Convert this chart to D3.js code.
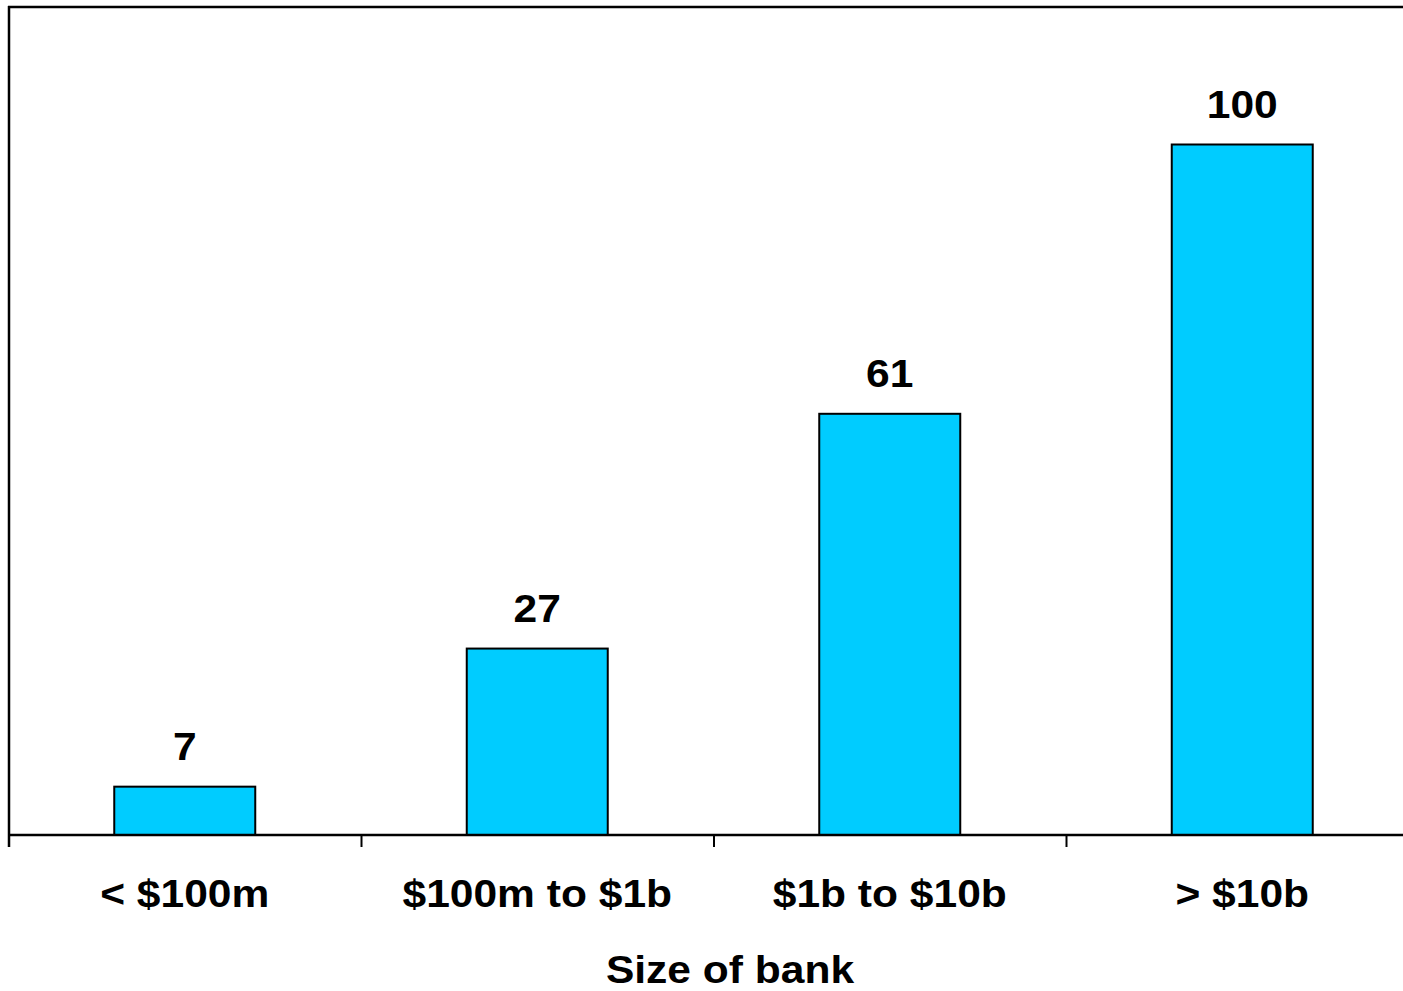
<!DOCTYPE html>
<html>
<head>
<meta charset="utf-8">
<script src="https://cdn.jsdelivr.net/npm/d3@7"></script>
<style>
  html, body { margin: 0; padding: 0; background: #fff; }
  svg { display: block; }
  text { font-family: "Liberation Sans", Arial, sans-serif; font-weight: bold; fill: #000; }
</style>
</head>
<body>
<svg id="chart" width="1403" height="991"></svg>
<script>
const categories = ["< $100m", "$100m to $1b", "$1b to $10b", "> $10b"];
const values = [7, 27, 61, 100];
const xTitle = "Size of bank";

const svg = d3.select("#chart");
const W = 1403, H = 991;
const plotLeft = 8.5, step = 352.5, baseY = 835, topY = 144.5;
const fs = 38, sx = 1.12;

const x = d3.scaleBand().domain(categories).range([plotLeft, plotLeft + step * categories.length]).padding(0);
const y = d3.scaleLinear().domain([0, 100]).range([baseY, topY]);
const barW = x.bandwidth() * 0.4;

// frame: top and left lines
svg.append("line").attr("x1", 8).attr("x2", W).attr("y1", 7).attr("y2", 7)
  .attr("stroke", "#000").attr("stroke-width", 2.5);
svg.append("line").attr("x1", 9).attr("x2", 9).attr("y1", 6).attr("y2", 847)
  .attr("stroke", "#000").attr("stroke-width", 2.5);

// bars
svg.selectAll("rect.bar").data(values).join("rect")
  .attr("class", "bar")
  .attr("x", (d, i) => x(categories[i]) + x.bandwidth() / 2 - barW / 2)
  .attr("width", barW)
  .attr("y", d => y(d))
  .attr("height", d => y(0) - y(d))
  .attr("fill", "#00CCFF")
  .attr("stroke", "#000")
  .attr("stroke-width", 2);

// axis line and ticks at category boundaries
svg.append("line").attr("x1", 8).attr("x2", W).attr("y1", baseY).attr("y2", baseY)
  .attr("stroke", "#000").attr("stroke-width", 2.5);
svg.selectAll("line.tick").data(categories).join("line")
  .attr("class", "tick")
  .attr("x1", d => x(d) + 0.5).attr("x2", d => x(d) + 0.5)
  .attr("y1", baseY).attr("y2", 847)
  .attr("stroke", "#000").attr("stroke-width", 2);

// value labels
svg.selectAll("text.val").data(values).join("text")
  .attr("class", "val")
  .attr("transform", (d, i) => `translate(${x(categories[i]) + x.bandwidth() / 2},${y(d) - 27}) scale(${sx},1)`)
  .attr("text-anchor", "middle")
  .attr("font-size", fs)
  .text(d => d);

// category labels
svg.selectAll("text.cat").data(categories).join("text")
  .attr("class", "cat")
  .attr("transform", d => `translate(${x(d) + x.bandwidth() / 2},907) scale(${sx},1)`)
  .attr("text-anchor", "middle")
  .attr("font-size", fs)
  .text(d => d);

// axis title
svg.append("text")
  .attr("transform", `translate(730,983) scale(${sx},1)`)
  .attr("text-anchor", "middle")
  .attr("font-size", fs)
  .text(xTitle);
</script>
</body>
</html>
